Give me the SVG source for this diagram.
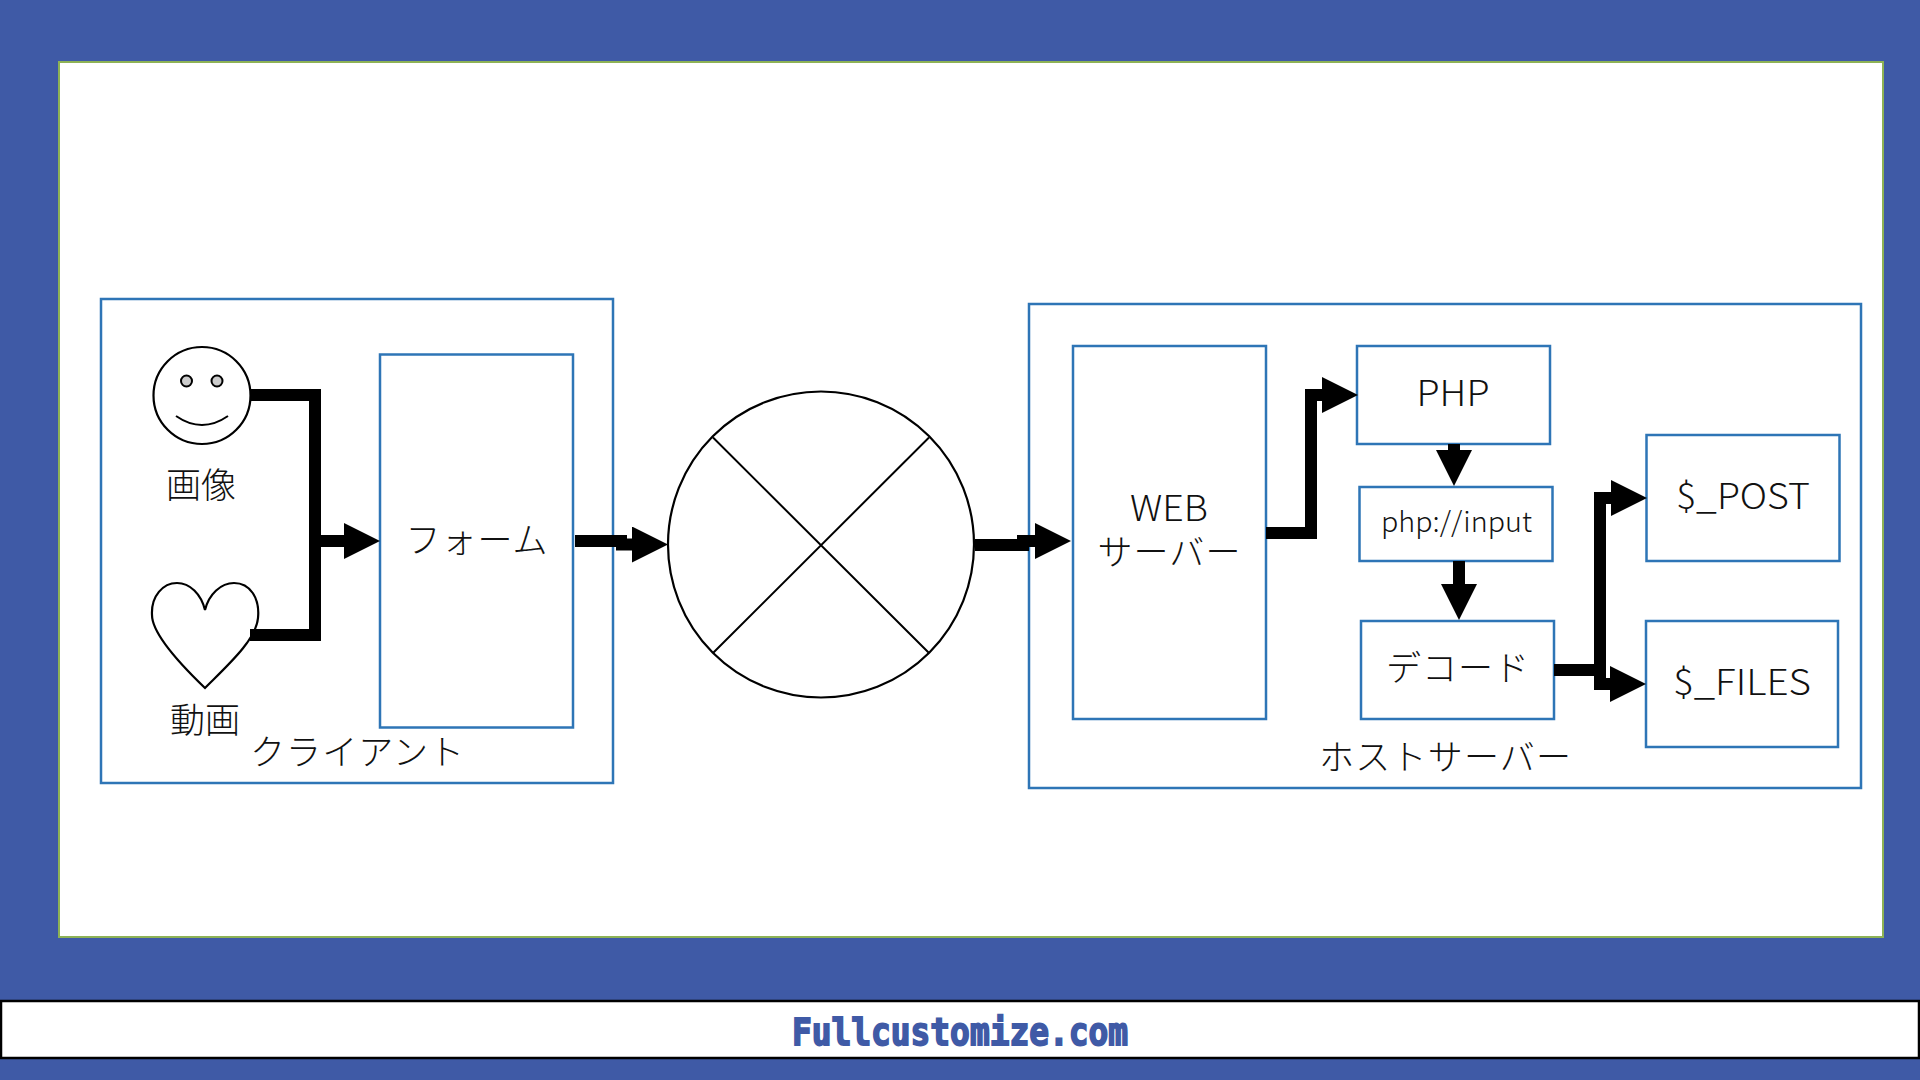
<svg xmlns="http://www.w3.org/2000/svg" width="1920" height="1080" viewBox="0 0 1920 1080">
<style>
.box{fill:#fff;stroke:#2E75B6;stroke-width:2.5}
.sh{fill:#fff;stroke:#000;stroke-width:2.2}
.c{fill:none;stroke:#000;stroke-width:12;stroke-linejoin:miter}
.a{marker-end:url(#h)}
.t{font-family:"Noto Sans CJK JP","Noto Sans",sans-serif;font-weight:300;fill:#111;text-anchor:middle;font-size:35px}
</style>
<defs>
<marker id="h" markerUnits="userSpaceOnUse" markerWidth="37" markerHeight="36" refX="0" refY="18" orient="auto"><polygon points="0,0 36,18 0,36" fill="#000"/></marker>
</defs>
<rect width="1920" height="1080" fill="#3F5AA6"/>
<rect x="59" y="62" width="1824" height="875" fill="#fff" stroke="#8DB255" stroke-width="2"/>
<g id="client"><rect class="box" x="101" y="299" width="512" height="484"/><text class="t" x="357" y="765" textLength="214">クライアント</text></g>
<g id="face">
<ellipse class="sh" cx="202" cy="395.500" rx="48.500" ry="48.500"/>
<ellipse cx="186.500" cy="381" rx="5.500" ry="5.500" fill="#ccc" stroke="#000" stroke-width="2"/>
<ellipse cx="217" cy="381" rx="5.500" ry="5.500" fill="#ccc" stroke="#000" stroke-width="2"/>
<path d="M176 416Q202 434 228 416" fill="none" stroke="#000" stroke-width="2"/>
<text class="t" x="201" y="498">画像</text></g>
<g id="heart">
<path class="sh" d="M205 688C180 664 152 634 152 615C151 596 163 583 177 583C190 583 201 594 205 610C209 594 221 583 234 583C250 583 260 598 258 618C256 640 228 665 205 688Z"/>
<text class="t" x="205" y="733">動画</text></g>
<g id="form"><rect class="box" x="380" y="354.500" width="193" height="373"/><text class="t" x="476.500" y="553" textLength="142">フォーム</text></g>
<g id="internet"><circle class="sh" cx="821" cy="544.500" r="153"/><path d="M713 437.500L929 653M929 437.500L713 653" fill="none" stroke="#000" stroke-width="2"/></g>
<g id="host"><rect class="box" x="1029" y="304" width="832" height="484"/><text class="t" x="1445" y="770" textLength="252">ホストサーバー</text></g>
<g id="web"><rect class="box" x="1073" y="346" width="193" height="373"/><text class="t" x="1169"><tspan x="1169" y="521" textLength="78" lengthAdjust="spacingAndGlyphs">WEB</tspan><tspan x="1169" y="565" textLength="143">サーバー</tspan></text></g>
<g id="php"><rect class="box" x="1357" y="346" width="193" height="98"/><text class="t" x="1453" y="406" textLength="73" lengthAdjust="spacingAndGlyphs">PHP</text></g>
<g id="input"><rect class="box" x="1359.500" y="487" width="193" height="74"/><text class="t" style="font-size:28px" x="1456.500" y="532" textLength="151" lengthAdjust="spacingAndGlyphs">php://input</text></g>
<g id="decode"><rect class="box" x="1361" y="621" width="193" height="98"/><text class="t" x="1457.500" y="681" textLength="143">デコード</text></g>
<g id="post"><rect class="box" x="1646.500" y="435" width="193" height="126"/><text class="t" x="1743" y="509" textLength="134" lengthAdjust="spacingAndGlyphs">$_POST</text></g>
<g id="files"><rect class="box" x="1646" y="621" width="192" height="126"/><text class="t" x="1742" y="695" textLength="138" lengthAdjust="spacingAndGlyphs">$_FILES</text></g>
<g id="connectors">
<path class="c" d="M250 395H315V635H250"/>
<path class="c a" d="M321 541H344"/>
<path class="c" d="M575 541H627"/>
<path class="c a" d="M616 544.500H632"/>
<path class="c" d="M975 545H1029"/>
<path class="c a" d="M1017 541H1035"/>
<path class="c a" d="M1266 533H1311V395H1322"/>
<path class="c a" d="M1454 444V450"/>
<path class="c a" d="M1459 561V584"/>
<path class="c" d="M1554 670H1600"/>
<path class="c a" d="M1600 684V498H1611"/>
<path class="c a" d="M1600 660V684H1610"/>
</g>
<g id="footer"><rect x="1" y="1001" width="1918" height="57" fill="#fff" stroke="#000" stroke-width="2.500"/>
<text x="792" y="1045" textLength="336" lengthAdjust="spacingAndGlyphs" style="font-family:'DejaVu Sans Mono',monospace;font-weight:700;font-size:38px;fill:#3F5AA6;stroke:#3F5AA6;stroke-width:1.800">Fullcustomize.com</text></g>
</svg>
